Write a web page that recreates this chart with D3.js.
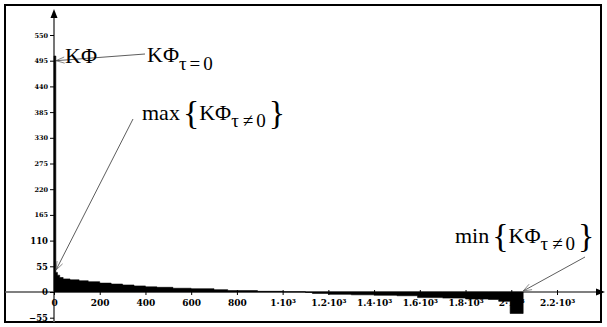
<!DOCTYPE html>
<html>
<head>
<meta charset="utf-8">
<script src="https://cdn.jsdelivr.net/npm/d3@7"></script>
<style>
  body { margin: 0; background: #fff; }
  svg { display: block; }
</style>
</head>
<body>
<div id="chart"></div>
<script>
// correlation function values (lag tau -> KΦ)
var tau = [0, 8, 15, 25, 40, 70, 110, 150, 200, 250, 300, 350, 400, 450, 520, 600, 700, 760, 890, 1000,
           1100, 1130, 1200, 1300, 1400, 1500, 1590, 1700, 1800, 1900, 1945, 1995, 2052];
var kf  = [505, 42, 36, 31, 28, 26, 24, 22, 19, 17, 15, 13, 11, 10, 8, 7, 5, 3, 1.5, 0.5,
           -1, -3, -5, -6, -7, -8, -12, -13, -15, -16, -20, -46, 0];

var xTicks = [0, 200, 400, 600, 800, 1000, 1200, 1400, 1600, 1800, 2000, 2200];
var xTickLabels = ["0", "200", "400", "600", "800", "1·10³", "1.2·10³", "1.4·10³", "1.6·10³", "1.8·10³", "2·10³", "2.2·10³"];
var yTicks = [-55, 0, 55, 110, 165, 220, 275, 330, 385, 440, 495, 550];

var W = 607, H = 327;

var svg = d3.select("#chart").append("svg")
    .attr("width", W)
    .attr("height", H);

var x = d3.scaleLinear().domain([0, 2200]).range([54, 557]);
var y = d3.scaleLinear().domain([0, 550]).range([292, 35]);

// frame
svg.append("rect")
    .attr("x", 5).attr("y", 5)
    .attr("width", 596).attr("height", 317)
    .attr("fill", "none")
    .attr("stroke", "#000")
    .attr("stroke-width", 2);

// axis lines
svg.append("line")
    .attr("x1", 5).attr("x2", 598)
    .attr("y1", y(0)).attr("y2", y(0))
    .attr("stroke", "#555").attr("stroke-width", 1.5);
svg.append("line")
    .attr("x1", x(0)).attr("x2", x(0))
    .attr("y1", 322).attr("y2", 15)
    .attr("stroke", "#666").attr("stroke-width", 1.8);

// arrow heads
svg.append("path")
    .attr("d", "M605," + y(0) + "L596," + (y(0) - 3.5) + "L596," + (y(0) + 3.5) + "Z")
    .attr("fill", "#000");
svg.append("path")
    .attr("d", "M" + x(0) + ",9L" + (x(0) - 3.5) + ",18L" + (x(0) + 3.5) + ",18Z")
    .attr("fill", "#000");

// y axis ticks
var yAxis = d3.axisLeft(y)
    .tickValues(yTicks)
    .tickSize(4)
    .tickPadding(2)
    .tickFormat(function (d) { return d < 0 ? "−" + (-d) : d; });
var gy = svg.append("g")
    .attr("transform", "translate(" + x(0) + ",0)")
    .call(yAxis);
gy.select(".domain").remove();
gy.selectAll("line").attr("stroke", "#000");
gy.selectAll("text")
    .attr("fill", "#000")
    .style("font-family", "'DejaVu Serif'")
    .style("font-weight", "bold")
    .style("font-size", function (d) { return d > 110 ? "6.5px" : "8.5px"; });

// x axis ticks
var xAxis = d3.axisBottom(x)
    .tickValues(xTicks)
    .tickSize(3)
    .tickPadding(5)
    .tickFormat(function (d, i) { return xTickLabels[i]; });
var gx = svg.append("g")
    .attr("transform", "translate(0," + y(0) + ")")
    .call(xAxis);
gx.select(".domain").remove();
gx.selectAll("line").attr("stroke", "#000").attr("y1", -2);
gx.selectAll("text")
    .attr("fill", "#000")
    .style("font-family", "'DejaVu Serif'")
    .style("font-weight", "bold")
    .style("font-size", "9px");

// data area
var data = tau.map(function (t, i) { return { t: t, v: kf[i] }; });
var area = d3.area()
    .x(function (d) { return x(d.t); })
    .y0(y(0))
    .y1(function (d) { return y(d.v); })
    .curve(d3.curveStepAfter);
svg.append("path")
    .datum(data)
    .attr("d", area)
    .attr("fill", "#000")
    .attr("stroke", "#000")
    .attr("stroke-width", 0.6);

// annotation arrows
function arrow(x1, y1, x2, y2) {
  svg.append("line")
      .attr("x1", x1).attr("y1", y1).attr("x2", x2).attr("y2", y2)
      .attr("stroke", "#333").attr("stroke-width", 0.8);
  var a = Math.atan2(y1 - y2, x1 - x2), L = 9, s = 0.35;
  svg.append("path")
      .attr("d", "M" + (x2 + L * Math.cos(a - s)) + "," + (y2 + L * Math.sin(a - s)) +
                 "L" + x2 + "," + y2 +
                 "L" + (x2 + L * Math.cos(a + s)) + "," + (y2 + L * Math.sin(a + s)))
      .attr("fill", "none").attr("stroke", "#555").attr("stroke-width", 0.7);
}
arrow(145, 54, x(0) + 2, y(495));
arrow(133, 119, x(0) + 2, 270);
arrow(585, 257, x(2052), y(0) - 1);

var serif = "'Liberation Serif', 'Times New Roman', serif";

// y axis label
svg.append("text")
    .attr("x", 65).attr("y", 63)
    .style("font-family", serif).style("font-size", "22px")
    .attr("fill", "#000")
    .text("KΦ");

// KΦ τ=0
var t0 = svg.append("text")
    .attr("x", 147).attr("y", 62)
    .style("font-family", serif).style("font-size", "22px")
    .attr("fill", "#000");
t0.append("tspan").text("KΦ");
t0.append("tspan").attr("dy", 8).style("font-size", "19px").text("τ");
t0.append("tspan").attr("dx", 3).style("font-size", "19px").text("=");
t0.append("tspan").attr("dx", 3).style("font-size", "19px").text("0");

function braceLabel(xs, ys, word) {
  var t = svg.append("text")
      .attr("x", xs).attr("y", ys)
      .style("font-family", serif).style("font-size", "22px")
      .attr("fill", "#000");
  t.append("tspan").text(word);
  t.append("tspan").attr("dx", 3).attr("dy", 4)
      .style("font-size", "34px").text("{");
  t.append("tspan").attr("dy", -4).text("KΦ");
  t.append("tspan").attr("dy", 7).style("font-size", "19px").text("τ");
  t.append("tspan").attr("dx", 4).style("font-size", "19px").text("≠");
  t.append("tspan").attr("dx", 3).style("font-size", "19px").text("0");
  t.append("tspan").attr("dx", 3).attr("dy", -3)
      .style("font-size", "34px").text("}");
}
braceLabel(142, 120, "max");
braceLabel(455, 243, "min");
</script>
</body>
</html>
